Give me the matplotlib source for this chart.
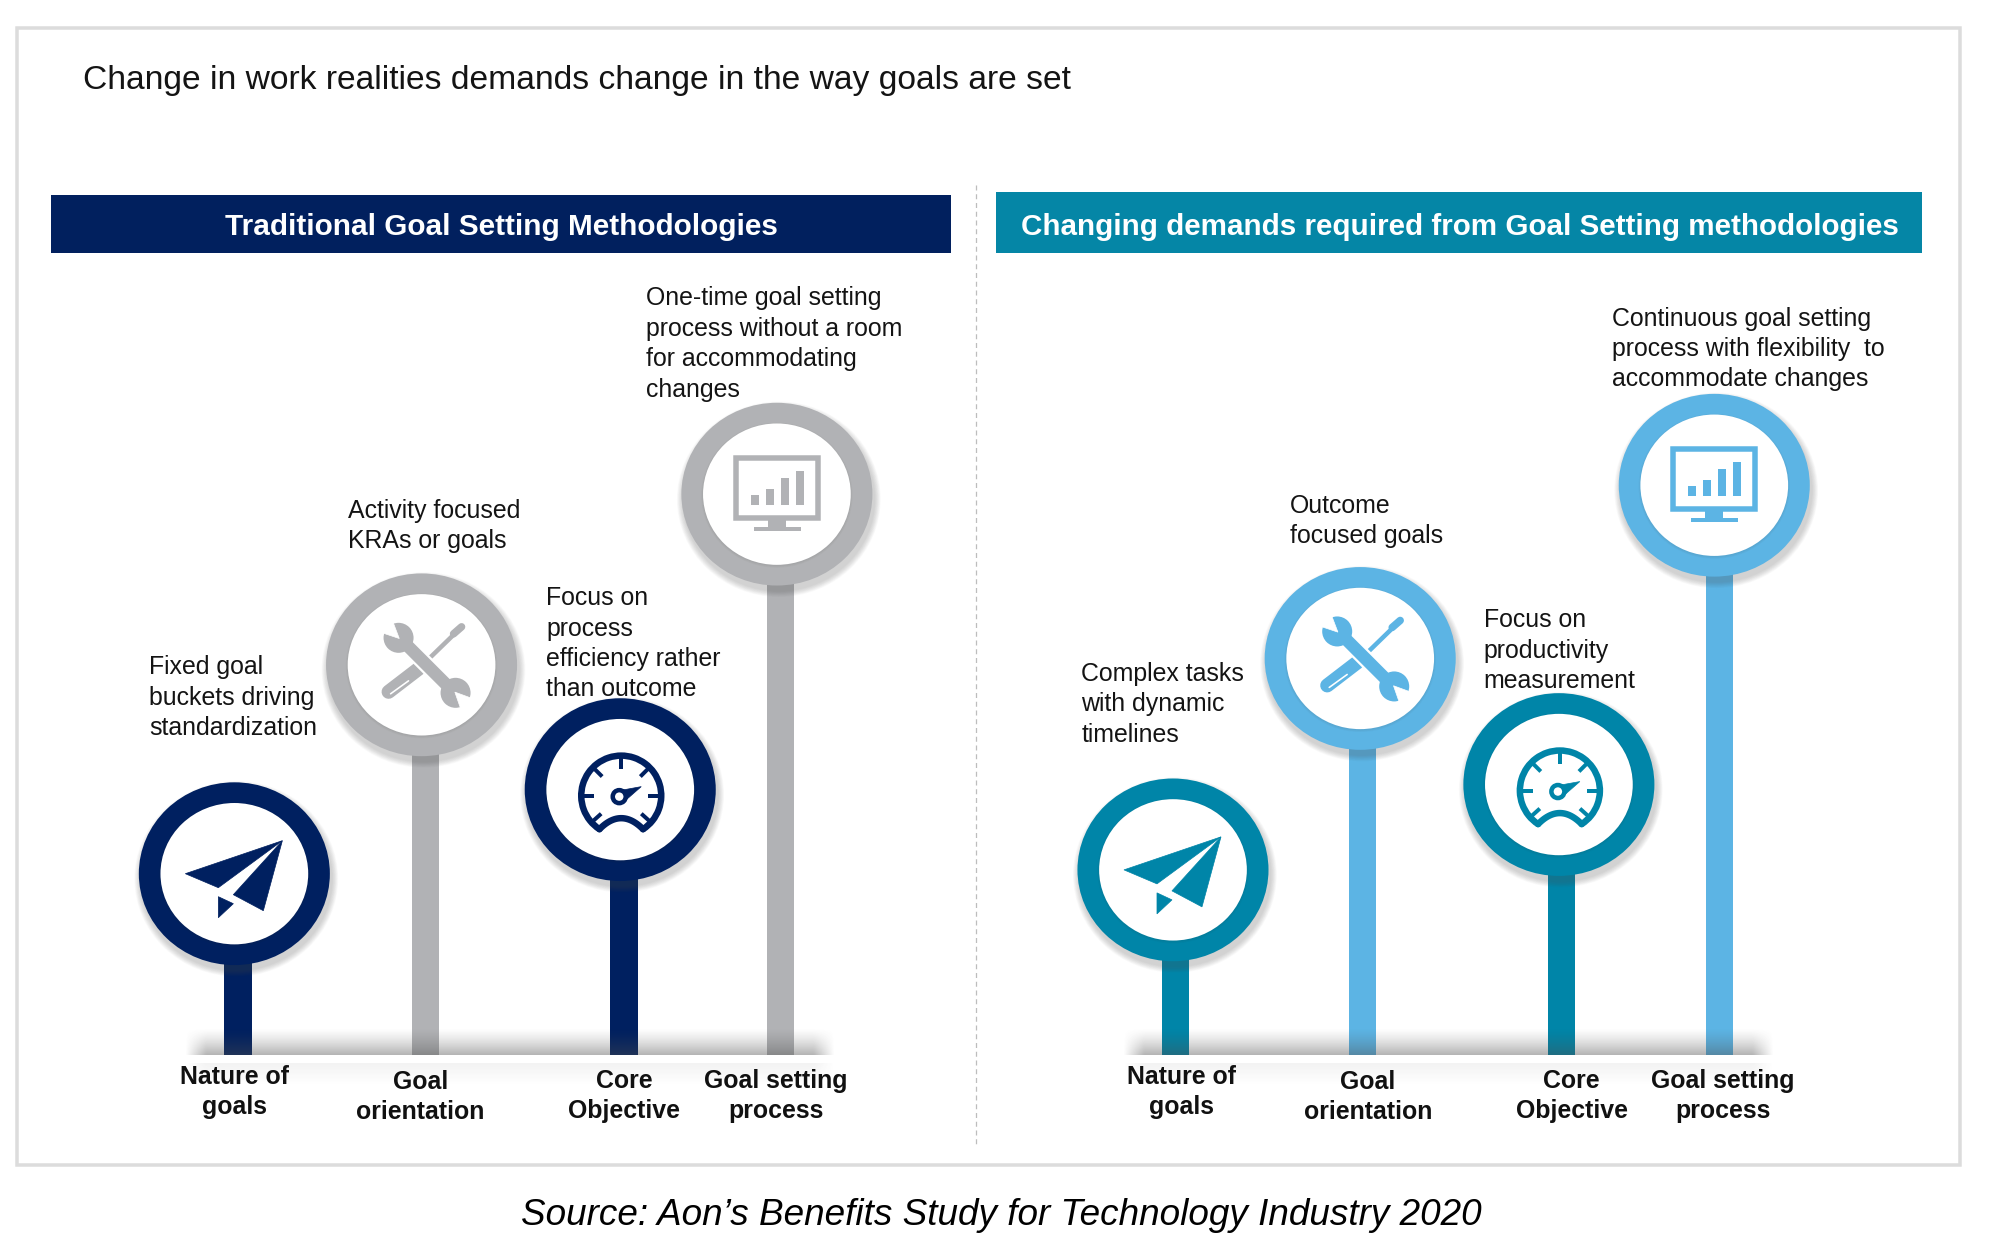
import numpy as np
import matplotlib
matplotlib.use("Agg")
import matplotlib.pyplot as plt
from matplotlib.patches import Ellipse, Rectangle, Polygon, Arc
from matplotlib.textpath import TextPath
from matplotlib.font_manager import FontProperties

# ---------- data ----------
title = "Change in work realities demands change in the way goals are set"
source = "Source: Aon\u2019s Benefits Study for Technology Industry 2020"
left_header = "Traditional Goal Setting Methodologies"
right_header = "Changing demands required from Goal Setting methodologies"
categories_left = ["Nature of\ngoals", "Goal\norientation", "Core\nObjective", "Goal setting\nprocess"]
categories_right = ["Nature of\ngoals", "Goal\norientation", "Core\nObjective", "Goal setting\nprocess"]
heights_left = [142, 306, 208, 440]
heights_right = [145, 311, 212, 447]
notes_left = ["Fixed goal\nbuckets driving\nstandardization",
              "Activity focused\nKRAs or goals",
              "Focus on\nprocess\nefficiency rather\nthan outcome",
              "One-time goal setting\nprocess without a room\nfor accommodating\nchanges"]
notes_right = ["Complex tasks\nwith dynamic\ntimelines",
               "Outcome\nfocused goals",
               "Focus on\nproductivity\nmeasurement",
               "Continuous goal setting\nprocess with flexibility  to\naccommodate changes"]

# ---------- layout ----------
S = 1997 / 1568          # px per axis unit
W, H = 1568, 1251 / S
BASE = 828
stems_left = [187, 334, 490, 613]
stems_right = [923, 1070, 1226, 1350]
head_dx_left = [-3, -3, -3, -3]
head_dx_right = [-2, -2, -2, -4]
note_xy_left = [(117, 548), (273, 413), (429, 505.5), (507, 270)]
note_xy_right = [(849, 553), (1013, 409), (1165, 511), (1266, 274)]
cat_xy_left = [(184, 857.5), (330, 861.5), (490, 860.5), (609, 860.5)]
cat_xy_right = [(928, 857.5), (1074, 861.5), (1234, 860.5), (1353, 860.5)]
NAVY, GREY, TEAL, SKY = "#002060", "#b1b2b5", "#0085a8", "#5cb4e4"
colors_left = [NAVY, GREY, NAVY, GREY]
colors_right = [TEAL, SKY, TEAL, SKY]
FONT = "Liberation Sans"
TXT = "#141414"


def fit(s, width_units, weight="normal", style="normal"):
    fp = FontProperties(family=FONT, weight=weight, style=style)
    w = TextPath((0, 0), s, size=100, prop=fp).get_extents().width
    return 100 * width_units * S * 72 / (w * 100)


fig = plt.figure(figsize=(19.97, 12.51), dpi=100, facecolor="white")
ax = fig.add_axes([0, 0, 1, 1])


def pts(cx, cy, P):
    return [(cx + x / S, cy + y / S) for x, y in P]


def px2lw(p):
    return p * 0.72


def plane(cx, cy, c):
    for P in ([(-49, 0), (48, -33), (-16, 14)],
              [(48, -33), (29, 37), (-1, 21)],
              [(-16, 23), (-1, 30), (-16, 44)]):
        ax.add_patch(Polygon(pts(cx, cy, P), closed=True, fc=c, ec=c, lw=0.5, zorder=6))


def seg(cx, cy, a, b, c, w, cap="round"):
    (x0, y0), (x1, y1) = pts(cx, cy, [a, b])
    ax.plot([x0, x1], [y0, y1], color=c, lw=px2lw(w), solid_capstyle=cap, zorder=6)


def tools(cx, cy, c):
    seg(cx, cy, (-33, 27), (-3, 4), c, 14)
    seg(cx, cy, (-31, 29), (-13, 16), "white", 1.6)
    seg(cx, cy, (-3, 4), (33, -31), c, 4.5)
    seg(cx, cy, (32, -31), (40, -38), c, 7.5)
    seg(cx, cy, (-16, -21), (27, 22), "white", 17, "butt")
    seg(cx, cy, (-22, -27), (33, 28), c, 12.5, "butt")
    for hx, hy, dx, dy in [(-23, -27, -0.72, -0.69), (34, 28, 0.70, 0.71)]:
        ax.add_patch(Ellipse((cx + hx / S, cy + hy / S), 30 / S, 30 / S, fc=c, ec="none", zorder=6))
        nx, ny = -dy, dx
        notch = [(hx - 1 * dx, hy - 1 * dy),
                 (hx + 18 * dx + 9 * nx, hy + 18 * dy + 9 * ny),
                 (hx + 18 * dx - 9 * nx, hy + 18 * dy - 9 * ny)]
        ax.add_patch(Polygon(pts(cx, cy, notch), closed=True, fc="white", ec="white", lw=0.5, zorder=6))


def gauge(cx, cy, c):
    gx, gy = cx + 1 / S, cy + 6 / S
    R = 40
    ax.add_patch(Arc((gx, gy), 2 * R / S, 2 * R / S, theta1=123, theta2=417, color=c,
                     lw=px2lw(6.5), capstyle="round", zorder=6))
    x0, y0 = R * np.cos(np.radians(57)), R * np.sin(np.radians(57))
    xs = np.linspace(-x0, x0, 30)
    ys = y0 - 11 * (1 - (xs / x0) ** 2)
    ax.plot(*zip(*pts(gx, gy, list(zip(xs, ys)))), color=c, lw=px2lw(6.5), solid_capstyle="round", zorder=6)
    for ang in (-180, -135, -90, -45, 0, 138, 42):
        r = np.radians(ang)
        seg(gx, gy, (27 * np.cos(r), 27 * np.sin(r)), (38 * np.cos(r), 38 * np.sin(r)), c, 4, "butt")
    ax.add_patch(Polygon(pts(gx, gy, [(-2, -5), (20, -9), (4, 5)]), closed=True, fc=c, ec=c, lw=0.5, zorder=7))
    ax.add_patch(Ellipse((gx - 2 / S, gy + 1 / S), 13 / S, 13 / S, fc="white", ec=c, lw=px2lw(4.5), zorder=7))


def monitor(cx, cy, c):
    ax.add_patch(Rectangle((cx - 41 / S, cy - 36.5 / S), 82 / S, 60 / S, fc="white", ec=c,
                           lw=px2lw(5.5), joinstyle="miter", zorder=6))
    for x0, x1, top in [(-26, -18, 1), (-11, -3, -5), (4, 12, -16), (19, 27, -23)]:
        ax.add_patch(Rectangle((cx + x0 / S, cy + top / S), (x1 - x0) / S, (11 - top) / S, fc=c, ec="none", zorder=6))
    ax.add_patch(Rectangle((cx - 9 / S, cy + 26 / S), 18 / S, 7 / S, fc=c, ec="none", zorder=6))
    ax.add_patch(Rectangle((cx - 23 / S, cy + 33 / S), 47 / S, 3.5 / S, fc=c, ec="none", zorder=6))


icons = [plane, tools, gauge, monitor]


def lollipops(stems, head_dx, heights, colors):
    stems = np.asarray(stems, float)
    heights = np.asarray(heights, float)
    ax.bar(stems, -(heights), bottom=BASE, width=21.5, color=colors, zorder=3, linewidth=0)
    for x, dx, h, c, icon in zip(stems, head_dx, heights, colors, icons):
        cx, cy = x + dx, BASE - h
        rh = 143.5
        for k in range(10):
            grow = 10 - k
            ax.add_patch(Ellipse((cx + 1.5, cy + 4), 150 + grow, rh + grow, fc="#555555", ec="none",
                                 alpha=0.028, zorder=4))
        ax.add_patch(Ellipse((cx, cy), 150, rh, fc=c, ec="none", zorder=5))
        for k in range(4):
            ax.add_patch(Ellipse((cx, cy + 0.8), 116 + 3 - k, 111 + 3 - k, fc="#333333", ec="none",
                                 alpha=0.025, zorder=5))
        ax.add_patch(Ellipse((cx, cy), 116, 111, fc="white", ec="none", zorder=5))
        icon(cx, cy, c)


def floor(x0, x1):
    nx, ny = 400, 60
    fx = np.clip(np.minimum(np.linspace(0, 1, nx) * (x1 - x0), (1 - np.linspace(0, 1, nx)) * (x1 - x0)) / 16, 0, 1)
    fy = np.linspace(0, 1, ny) ** 1.3
    img = np.zeros((ny, nx, 4))
    img[..., :3] = 0.3
    img[..., 3] = 0.42 * np.outer(fy, fx)
    ax.imshow(img, extent=(x0, x1, BASE, BASE - 21), aspect="auto", zorder=3.5, interpolation="bilinear")
    img2 = np.zeros((ny, nx, 4))
    img2[..., :3] = 0.3
    img2[..., 3] = 0.07 * np.outer(1 - np.linspace(0, 1, ny), fx)
    ax.imshow(img2, extent=(x0, x1, BASE + 24, BASE + 7), aspect="auto", zorder=1, interpolation="bilinear")


# frame, divider
ax.add_patch(Rectangle((13, 22), 1526, 893, fc="white", ec="#dcdcdc", lw=px2lw(3.5), zorder=0))
ax.plot([766, 766], [145, 900], color="#bdbdbd", lw=0.9, ls=(0, (4, 3)), zorder=1)

# headers
ax.add_patch(Rectangle((40, 153), 707, 46, fc="#01205e", ec="none", zorder=1))
ax.add_patch(Rectangle((782, 151), 727, 48, fc="#0586a6", ec="none", zorder=1))
ax.text(394, 178, left_header, color="white", ha="center", va="center", family=FONT, weight="bold",
        fontsize=fit(left_header, 432, "bold"), zorder=2)
ax.text(1146, 178, right_header, color="white", ha="center", va="center", family=FONT, weight="bold",
        fontsize=fit(right_header, 688, "bold"), zorder=2)

# title, source
ax.text(65, 63.5, title, color=TXT, ha="left", va="center", family=FONT, fontsize=fit(title, 776))
ax.text(786, 954, source, color="black", ha="center", va="center", family=FONT, style="italic",
        fontsize=fit(source, 752, style="italic"))

# lollipops
lollipops(stems_left, head_dx_left, heights_left, colors_left)
lollipops(stems_right, head_dx_right, heights_right, colors_right)
floor(145, 655)
floor(882, 1393)

# text
note_size = fit("process without a room", 200)
cat_size = fit("Goal setting", 111, "bold")
for notes, xy in ((notes_left, note_xy_left), (notes_right, note_xy_right)):
    for s, (x, y) in zip(notes, xy):
        ax.text(x, y, s, color=TXT, ha="left", va="center", family=FONT, fontsize=note_size,
                linespacing=1.34, zorder=8, multialignment="left")
for cats, xy in ((categories_left, cat_xy_left), (categories_right, cat_xy_right)):
    for s, (x, y) in zip(cats, xy):
        ax.text(x, y, s, color="#111111", ha="center", va="center", family=FONT, weight="bold",
                fontsize=cat_size, linespacing=1.34, zorder=8)

ax.set_xlim(0, W)
ax.set_ylim(H, 0)
ax.axis("off")
fig.savefig("out.png", dpi=100, facecolor="white")
